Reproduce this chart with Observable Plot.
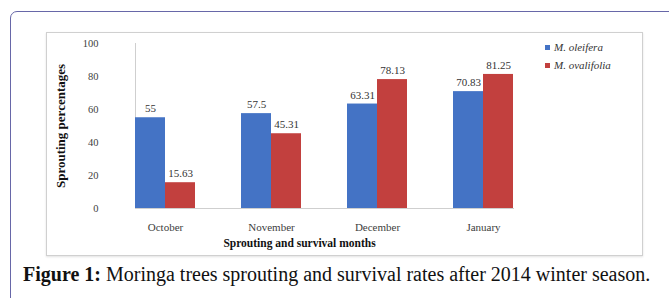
<!DOCTYPE html>
<html>
<head>
<meta charset="utf-8">
<script src="https://cdn.jsdelivr.net/npm/d3@7"></script>
<script src="https://cdn.jsdelivr.net/npm/@observablehq/plot@0.6"></script>
<style>
  body { margin:0; background:#fff; width:669px; height:298px; overflow:hidden; position:relative; font-family:"Liberation Serif", "Times New Roman", serif; }
  #frame { position:absolute; left:10px; top:11px; width:720px; height:340px; border:1.5px solid #6767a8; border-radius:7px; }
  #chart { position:absolute; left:46px; top:32px; width:595px; height:222px; border:1px solid #d0d0d0; box-shadow:0 1px 2px #e2e2e2; background:#fff; }
  #chart svg { display:block; }
  #chart g[aria-label="y-axis label"] text { font-weight:bold; font-size:13px; fill:#111; }
  #legend { position:absolute; left:545px; top:38px; font-size:11px; font-style:italic; color:#333; line-height:18px; }
  #legend .sw { display:inline-block; width:5px; height:5px; margin-right:4px; vertical-align:middle; position:relative; top:-1px; }
  #caption { position:absolute; left:23px; top:263px; font-size:20px; color:#111; white-space:nowrap; }
</style>
</head>
<body>
<div id="frame"></div>
<div id="chart"></div>
<div id="legend"></div>
<div id="caption"><b>Figure 1:</b> Moringa trees sprouting and survival rates after 2014 winter season.</div>
<script>
const months = ["October", "November", "December", "January"];
const series = ["M. oleifera", "M. ovalifolia"];
const oleifera = [55, 57.5, 63.31, 70.83];
const ovalifolia = [15.63, 45.31, 78.13, 81.25];
const yTicks = [0, 20, 40, 60, 80, 100];
const colors = ["#4473c5", "#c2403e"];
const xTitle = "Sprouting and survival months";
const yTitle = "Sprouting percentages";

const data = months.flatMap((m, i) => [
  {month: m, series: series[0], value: oleifera[i]},
  {month: m, series: series[1], value: ovalifolia[i]}
]);

const chart = Plot.plot({
  width: 595,
  height: 222,
  marginLeft: 64,
  marginRight: 105,
  marginTop: 10,
  marginBottom: 47,
  style: {fontFamily: '"Liberation Serif", "Times New Roman", serif', fontSize: "11px", color: "#404040", background: "transparent", overflow: "visible"},
  fx: {domain: months, paddingInner: 0.437, paddingOuter: 0.225, label: null, axis: null},
  x: {domain: series, padding: 0, axis: null},
  y: {domain: [0, 100], label: null, axis: null},
  color: {domain: series, range: colors},
  marks: [
    Plot.frame({anchor: "bottom", stroke: "#cfcfcf", facet: "super"}),
    Plot.frame({anchor: "left", stroke: "#cfcfcf", facet: "super"}),
    Plot.axisY({ticks: yTicks, tickSize: 0, tickPadding: 37, fontSize: 10.5, label: null}),
    Plot.axisY({ticks: [], label: yTitle, labelAnchor: "center", labelArrow: "none", labelOffset: 80, dy: 8}),
    Plot.axisFx({anchor: "bottom", tickSize: 0, tickPadding: 15, fontSize: 11, label: null}),
    Plot.barY(data, {fx: "month", x: "series", y: "value", fill: "series"}),
    Plot.text(data, {fx: "month", x: "series", y: "value", text: d => String(d.value), dy: -9, fontSize: 11, fill: "#333"}),
    Plot.text([xTitle], {text: d => d, frameAnchor: "bottom", dy: 38, dx: -25, fontWeight: "bold", fontSize: 11.5, fill: "#111", facet: "super"})
  ]
});
document.getElementById("chart").appendChild(chart);

const color = chart.scale("color");
const legend = document.getElementById("legend");
series.forEach(s => {
  const row = document.createElement("div");
  const sw = document.createElement("span");
  sw.className = "sw";
  sw.style.background = color.apply(s);
  row.appendChild(sw);
  row.appendChild(document.createTextNode(s));
  legend.appendChild(row);
});
</script>
</body>
</html>
